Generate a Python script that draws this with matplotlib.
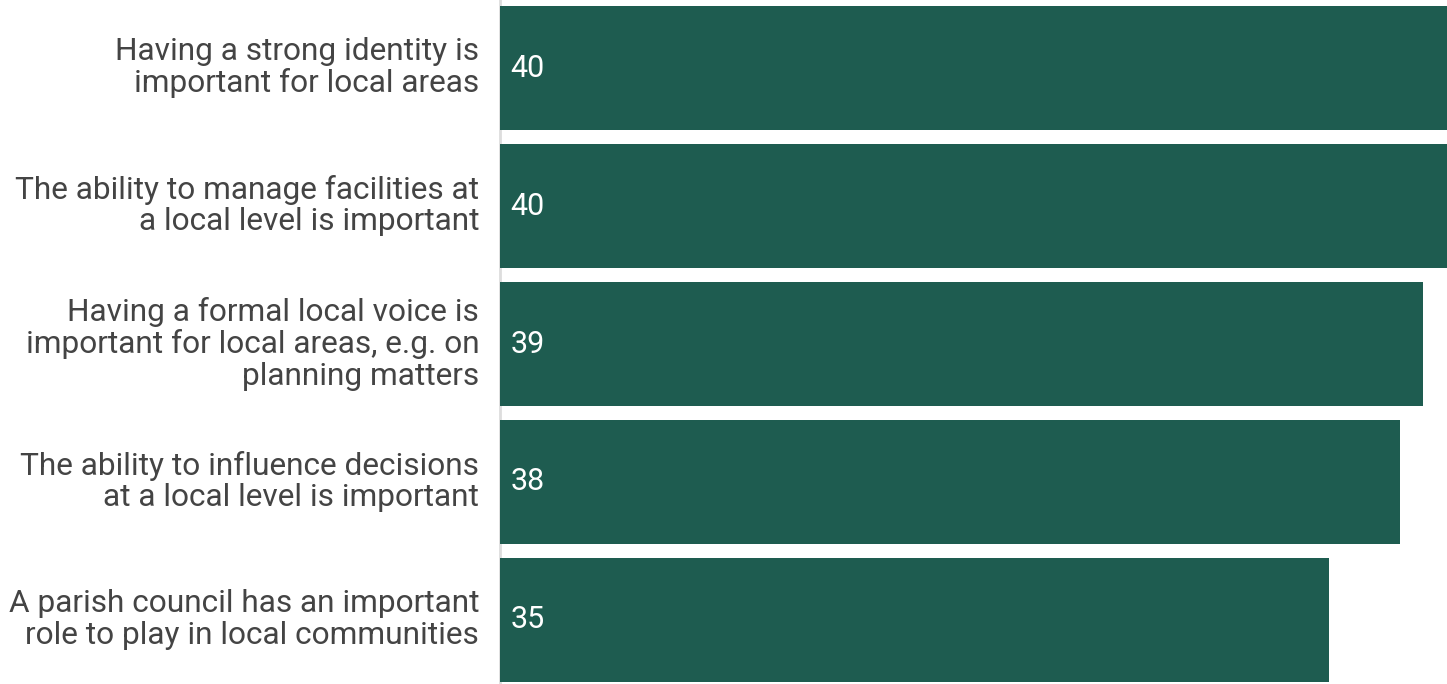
import matplotlib
matplotlib.use("Agg")
import matplotlib.pyplot as plt
import matplotlib.transforms as mtransforms

# data
statements = [
    "Having a strong identity is\nimportant for local areas",
    "The ability to manage facilities at\na local level is important",
    "Having a formal local voice is\nimportant for local areas, e.g. on\nplanning matters",
    "The ability to influence decisions\nat a local level is important",
    "A parish council has an important\nrole to play in local communities",
]
scores = [40, 40, 39, 38, 35]

bar_colour = "#1e5c50"
text_colour = "#444444"

plt.rcParams['font.family'] = ['Roboto', 'DejaVu Sans']

fig = plt.figure(figsize=(14.47, 6.84), dpi=100)
ax = fig.add_axes([500 / 1447, 0, 947 / 1447, 1])

ypos = list(range(len(scores)))
ax.barh(ypos, scores, height=0.9, color=bar_colour, zorder=3)

for y, v in zip(ypos, scores):
    ax.text(0.45, y, str(v), color="white", fontsize=22, va="center", ha="left", zorder=4)

ax.set_xlim(0, 40)
ax.set_ylim(4.4638, -0.4928)

ax.set_yticks(ypos)
ax.set_yticklabels(statements, fontsize=22.8, color=text_colour, linespacing=1.1)
ax.tick_params(axis="y", length=0, pad=15)
ax.set_xticks([])

# nudge the labels up a little so they sit like the original
shift = mtransforms.ScaledTranslation(0, 4.5 / 100, fig.dpi_scale_trans)
for lab in ax.get_yticklabels():
    lab.set_transform(lab.get_transform() + shift)

for side in ["top", "right", "bottom"]:
    ax.spines[side].set_visible(False)
ax.spines["left"].set_color("#dddddd")
ax.spines["left"].set_linewidth(2)

fig.savefig("out.png", dpi=100)
